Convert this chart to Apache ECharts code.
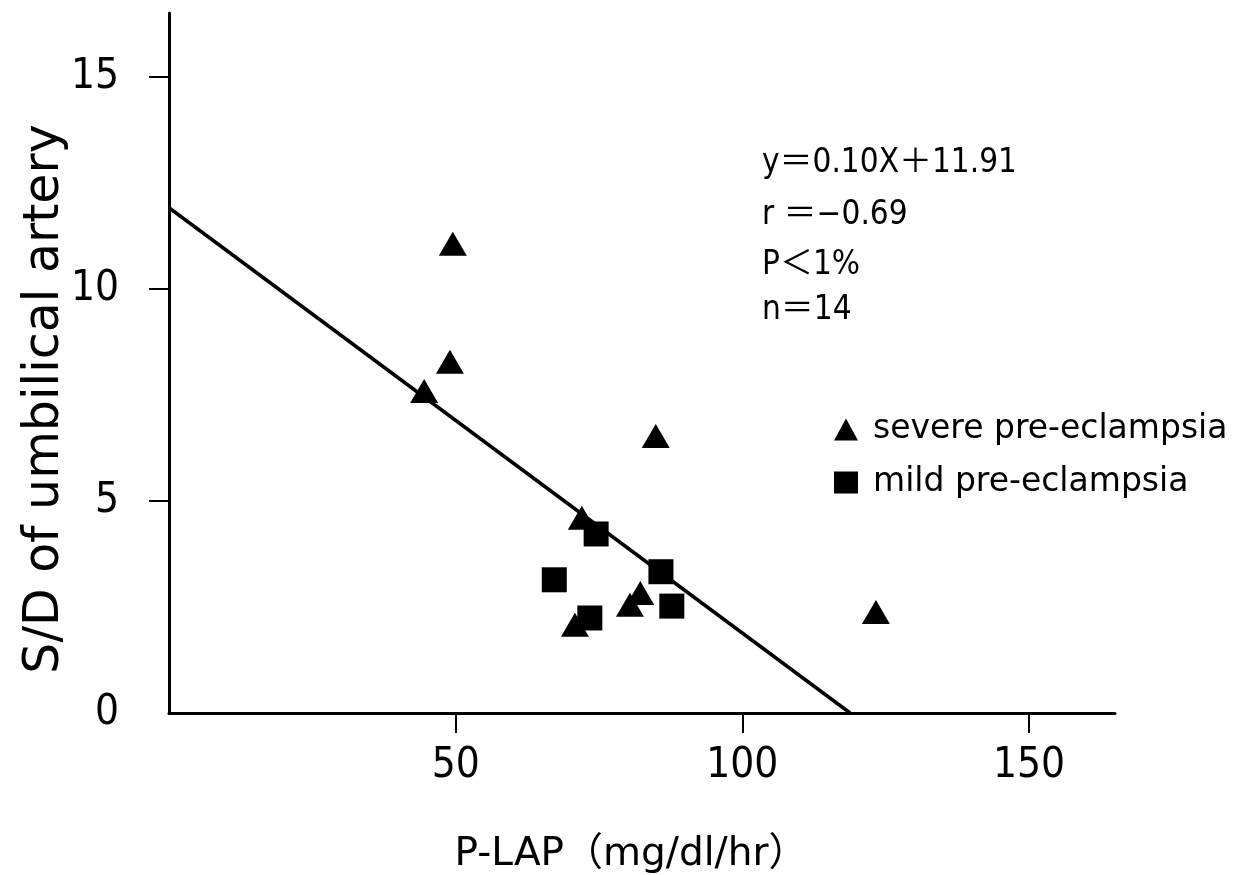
<!DOCTYPE html>
<html>
<head>
<meta charset="utf-8">
<script src="https://cdn.jsdelivr.net/npm/echarts@6/dist/echarts.min.js"></script>
<style>
  html, body { margin: 0; padding: 0; background: #fff; }
  #chart { width: 1252px; height: 875px; }
</style>
</head>
<body>
<div id="chart"></div>
<script>
// P-LAP (x) vs S/D of umbilical artery (y)
var severeX = [49.5, 49.0, 44.5, 84.9, 72.0, 82.2, 80.4, 70.8, 123.3];
var severeY = [11.06, 8.28, 7.59, 6.53, 4.6, 2.83, 2.55, 2.08, 2.38];
var mildX = [74.5, 67.2, 85.8, 87.7, 73.4];
var mildY = [4.22, 3.14, 3.33, 2.52, 2.24];
// regression line end points (y = 0.10X + 11.91 as printed)
var fitX = [0, 118.8];
var fitY = [11.91, 0];

var xTicks = [50, 100, 150];
var yTicks = [0, 5, 10, 15];
var statLines = ['y＝0.10X＋11.91', 'r ＝−0.69', 'P＜1%', 'n＝14'];

function pairs(xs, ys) {
    return xs.map(function (x, i) { return [x, ys[i]]; });
}

var narrow = "'Liberation Sans Narrow', 'DejaVu Sans Condensed', 'Noto Sans CJK JP', sans-serif";
var wide = "'DejaVu Sans', 'Noto Sans CJK JP', sans-serif";

var chartDom = document.getElementById('chart');
var myChart = echarts.init(chartDom, null, { renderer: 'canvas' });

var option = {
    backgroundColor: '#fff',
    animation: false,
    grid: { left: 169, top: 13, width: 946, height: 700 },
    xAxis: {
        type: 'value',
        min: 0,
        max: 165,
        axisLine: { onZero: false, lineStyle: { color: '#000', width: 3 } },
        axisTick: { customValues: xTicks, length: 20, lineStyle: { color: '#000', width: 2 } },
        axisLabel: {
            customValues: xTicks,
            margin: 32,
            color: '#000',
            fontSize: 42,
            fontFamily: narrow
        },
        splitLine: { show: false }
    },
    yAxis: {
        type: 'value',
        min: 0,
        max: 16.5,
        axisLine: { onZero: false, lineStyle: { color: '#000', width: 3 } },
        axisTick: { customValues: [5, 10, 15], length: 20, lineStyle: { color: '#000', width: 2 } },
        axisLabel: {
            customValues: yTicks,
            margin: 50,
            color: '#000',
            fontSize: 42,
            fontFamily: narrow
        },
        splitLine: { show: false }
    },
    legend: {
        orient: 'vertical',
        left: 829,
        top: 408,
        itemWidth: 24,
        itemHeight: 22,
        itemGap: 20,
        textStyle: { fontSize: 33, color: '#000', fontFamily: wide, padding: [0, 0, 0, 10] },
        data: [
            { name: 'severe pre-eclampsia', icon: 'triangle', itemStyle: { color: '#000', opacity: 1 } },
            { name: 'mild pre-eclampsia', icon: 'rect', itemStyle: { color: '#000', opacity: 1 } }
        ]
    },
    graphic: [
        {
            type: 'text', x: 45, y: 399, rotation: Math.PI / 2,
            style: { text: 'S/D of umbilical artery', fontSize: 49, fontFamily: wide, fill: '#000', align: 'center', verticalAlign: 'middle' }
        },
        {
            type: 'text', x: 631, y: 855,
            style: { text: 'P-LAP（mg/dl/hr）', fontSize: 39, fontFamily: wide, fill: '#000', align: 'center', verticalAlign: 'middle' }
        }
    ].concat(statLines.map(function (t, i) {
        var ys = [163, 215, 265, 310];
        return {
            type: 'text', x: 762, y: ys[i],
            style: { text: t, fontSize: 33, fontFamily: narrow, fill: '#000', align: 'left', verticalAlign: 'middle' }
        };
    })),
    series: [
        {
            name: 'fit',
            type: 'line',
            data: pairs(fitX, fitY),
            symbol: 'none',
            lineStyle: { color: '#000', width: 3.5 },
            silent: true
        },
        {
            name: 'severe pre-eclampsia',
            type: 'scatter',
            symbol: 'triangle',
            symbolSize: [28, 24],
            itemStyle: { color: '#000', opacity: 1 },
            data: pairs(severeX, severeY)
        },
        {
            name: 'mild pre-eclampsia',
            type: 'scatter',
            symbol: 'rect',
            symbolSize: 25,
            itemStyle: { color: '#000', opacity: 1 },
            data: pairs(mildX, mildY)
        }
    ]
};

option && myChart.setOption(option);
window.addEventListener('resize', function () {
    myChart.resize();
});
</script>
</body>
</html>
